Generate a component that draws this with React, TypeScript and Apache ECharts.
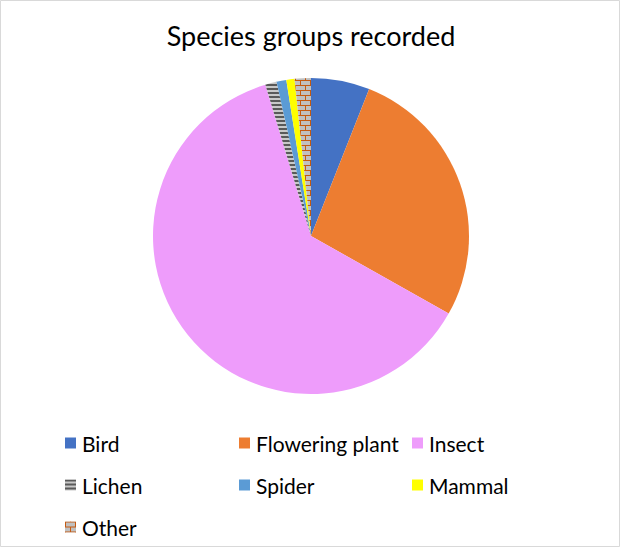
import React, { useEffect, useRef } from "react";
import * as echarts from "echarts";

const categories = ["Bird", "Flowering plant", "Insect", "Lichen", "Spider", "Mammal", "Other"];
const counts = [36, 163, 373, 7, 6, 5, 10];
const solidColors = ["#4472C4", "#ED7D31", "#EE9CFB", null, "#5B9BD5", "#FFFF00", null];
const legendRows = [
  ["Bird", "Flowering plant", "Insect"],
  ["Lichen", "Spider", "Mammal"],
  ["Other"],
];

function makeLichen() {
  const c = document.createElement("canvas");
  c.width = 8;
  c.height = 8;
  const g = c.getContext("2d")!;
  g.fillStyle = "#C8C8C8";
  g.fillRect(0, 0, 8, 8);
  g.fillStyle = "#595959";
  g.fillRect(0, 0, 8, 4);
  return c;
}

function makeBrick() {
  const c = document.createElement("canvas");
  c.width = 20;
  c.height = 20;
  const g = c.getContext("2d")!;
  g.fillStyle = "#C0C0C0";
  g.fillRect(0, 0, 20, 20);
  g.fillStyle = "#C55A11";
  g.fillRect(0, 0, 20, 2);
  g.fillRect(0, 10, 20, 2);
  g.fillRect(0, 2, 2, 8);
  g.fillRect(10, 12, 2, 8);
  return c;
}

export default function App() {
  const ref = useRef<HTMLDivElement>(null);
  useEffect(() => {
    document.body.style.margin = "0";
    const chart = echarts.init(ref.current!, undefined, { renderer: "svg" });
    const lichen = makeLichen();
    const brick = makeBrick();
    const colorFor = (i: number): any => {
      if (i === 3) return { image: lichen.toDataURL(), repeat: "repeat", imageWidth: 4, imageHeight: 4 };
      if (i === 6) return { image: brick.toDataURL(), repeat: "repeat", imageWidth: 10, imageHeight: 10 };
      return solidColors[i];
    };
    const font = "Lato, 'Liberation Sans', sans-serif";
    const colX = [65, 239, 412];
    const rowY = [443, 485, 527];
    const legends: any[] = [];
    legendRows.forEach((row, r) => {
      row.forEach((name, c) => {
        legends.push({
          data: [name],
          left: colX[c],
          top: rowY[r] - 11,
          padding: 0,
          icon: "rect",
          itemWidth: 11,
          itemHeight: 11,
          itemGap: 0,
          selectedMode: false,
          textStyle: { fontFamily: font, fontSize: 21, color: "#000000", lineHeight: 22, padding: [0, 0, 0, 1] },
        });
      });
    });
    chart.setOption({
      animation: false,
      backgroundColor: "#ffffff",
      title: {
        text: "Species groups recorded",
        left: "center",
        top: 22,
        padding: 0,
        textStyle: { fontFamily: font, fontSize: 27, fontWeight: "normal", color: "#000000" },
      },
      legend: legends,
      graphic: [
        {
          type: "rect",
          shape: { x: 0.5, y: 0.5, width: 619, height: 546 },
          style: { fill: "none", stroke: "#D9D9D9", lineWidth: 1 },
          silent: true,
        },
      ],
      series: [
        {
          type: "pie",
          center: [311, 236],
          radius: 158,
          startAngle: 90,
          clockwise: true,
          label: { show: false },
          labelLine: { show: false },
          emphasis: { disabled: true },
          itemStyle: { borderWidth: 0 },
          data: categories.map((name, i) => ({
            name,
            value: counts[i],
            itemStyle: { color: colorFor(i) },
          })),
        },
      ],
    });
    return () => chart.dispose();
  }, []);
  return <div ref={ref} style={{ width: 622, height: 549 }} />;
}
